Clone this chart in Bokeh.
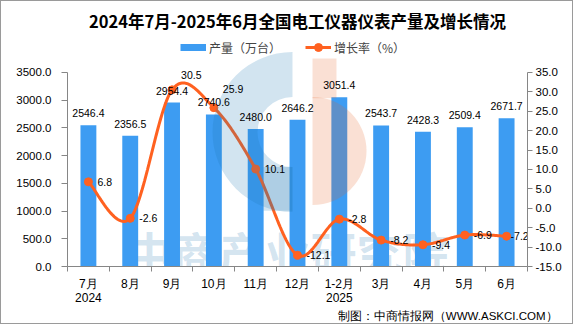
import numpy as np
from bokeh.plotting import figure
from bokeh.models import (Range1d, LinearAxis, FixedTicker, PrintfTickFormatter, Label,
                          Legend, LegendItem, Title, ColumnDataSource)
from bokeh.core.properties import value
from bokeh.embed import file_html
from bokeh.resources import INLINE

# ---------------- data ----------------
categories = ["7月\n2024", "8月", "9月", "10月", "11月", "12月", "1-2月\n2025", "3月", "4月", "5月", "6月"]
production = [2546.4, 2356.5, 2954.4, 2740.6, 2480.0, 2646.2, 3051.4, 2543.7, 2428.3, 2509.4, 2671.7]
growth = [6.8, -2.6, 30.5, 25.9, 10.1, -12.1, -2.8, -8.2, -9.4, -6.9, -7.2]
left_ticks = [0, 500, 1000, 1500, 2000, 2500, 3000, 3500]
right_ticks = [-15, -10, -5, 0, 5, 10, 15, 20, 25, 30, 35]

title_text = "2024年7月-2025年6月全国电工仪器仪表产量及增长情况"
bar_name = "产量（万台）"
line_name = "增长率（%）"
footer_text = "制图：中商情报网（WWW.ASKCI.COM）"
watermark_text = "中商产业研究院"

# ---------------- styles ----------------
BAR_COLOR = "#3d9cf2"
LINE_COLOR = "#ff6120"
AXIS_COLOR = "#868686"
CJK = "Noto Sans CJK SC"
NUM = "Liberation Sans"

W, H = 573, 324          # plus a 1px border on each side -> 575 x 326
BL, BR, BT, BB = 66, 47, 35, 59
FW, FH = W - BL - BR, H - BT - BB
AXIS_H = 195             # pixel height of the value axes (0..3500 / -15..35)
L_MIN, L_MAX = left_ticks[0], left_ticks[-1]
R_MIN, R_MAX = right_ticks[0], right_ticks[-1]
L_TOP = L_MIN + (L_MAX - L_MIN) * FH / AXIS_H
R_TOP = R_MIN + (R_MAX - R_MIN) * FH / AXIS_H

n = len(categories)
xs = [i + 0.5 for i in range(n)]

p = figure(width=W, height=H, x_range=Range1d(0, n), y_range=Range1d(L_MIN, L_TOP),
           output_backend="svg", toolbar_location=None,
           min_border_left=BL, min_border_right=BR, min_border_top=BT, min_border_bottom=BB)
p.styles = {"border": "1px solid #9a9a9a"}
p.extra_y_ranges = {"right": Range1d(R_MIN, R_TOP)}
p.outline_line_color = None
p.xgrid.visible = False
p.ygrid.visible = False
p.background_fill_color = "white"
p.border_fill_color = "white"

# title
p.title.text = title_text
p.title.align = "center"
p.title.text_font = CJK
p.title.text_font_size = "16.5px"
p.title.text_font_style = "bold"
p.title.text_color = "black"

# x axis
xa = p.xaxis[0]
xa.ticker = FixedTicker(ticks=xs, minor_ticks=list(range(n + 1)))
xa.major_label_overrides = {x: c for x, c in zip(xs, categories)}
xa.major_tick_in = 0
xa.major_tick_out = 0
xa.minor_tick_in = 0
xa.minor_tick_out = 5
xa.minor_tick_line_color = AXIS_COLOR
xa.axis_line_color = AXIS_COLOR
xa.major_label_standoff = 5
xa.major_label_text_font = NUM
xa.major_label_text_font_size = "12px"
xa.major_label_text_color = "black"
xa.major_label_text_line_height = 1.0

# left axis
ya = p.yaxis[0]
ya.bounds = (L_MIN, L_MAX)
ya.ticker = FixedTicker(ticks=left_ticks)
ya.formatter = PrintfTickFormatter(format="%.1f")
ya.minor_tick_line_color = None
ya.major_tick_in = 0
ya.major_tick_out = 6
ya.major_tick_line_color = AXIS_COLOR
ya.axis_line_color = AXIS_COLOR
ya.major_label_standoff = 10
ya.major_label_text_font = NUM
ya.major_label_text_font_size = "11.5px"
ya.major_label_text_color = "black"

# right axis
ra = LinearAxis(y_range_name="right", ticker=FixedTicker(ticks=right_ticks),
                formatter=PrintfTickFormatter(format="%.1f"), bounds=(R_MIN, R_MAX))
ra.minor_tick_line_color = None
ra.major_tick_in = 0
ra.major_tick_out = 5
ra.major_tick_line_color = AXIS_COLOR
ra.axis_line_color = AXIS_COLOR
ra.major_label_standoff = 3
ra.major_label_text_font = NUM
ra.major_label_text_font_size = "11.5px"
ra.major_label_text_color = "black"
p.add_layout(ra, "right")

# helpers: window pixel -> frame-relative screen / data coordinates (decoration only)
def fx(px):
    return px - 1 - BL
def fy(py):
    return H + 1 - BB - py
def dx(px):
    return fx(px) / FW * n
def dy(py):
    return L_MIN + fy(py) / FH * (L_TOP - L_MIN)

# watermark text (under bars)
p.add_layout(Label(x=fx(287), y=fy(250), x_units="screen", y_units="screen",
                   text=watermark_text, text_font=CJK, text_font_size="46px",
                   text_font_style="bold", text_color="#1f77b4", text_alpha=0.2,
                   text_align="center", text_baseline="middle", level="underlay"))

# bars
src = ColumnDataSource(dict(x=xs, prod=production, growth=growth,
                            plab=[f"{v:.1f}" for v in production]))
bars = p.vbar(x="x", top="prod", width=0.38, source=src, fill_color=BAR_COLOR, line_color=None)

# smooth growth line (Bezier through the data points, spreadsheet-style smoothing)
pts = np.column_stack([xs, growth]).astype(float)
cx, cy = [], []
for i in range(n - 1):
    p0 = pts[max(i - 1, 0)]; p1 = pts[i]; p2 = pts[i + 1]; p3 = pts[min(i + 2, n - 1)]
    c1 = p1 + (p2 - p0) / 6.0
    c2 = p2 - (p3 - p1) / 6.0
    t = np.linspace(0, 1, 30)[:, None]
    seg = ((1 - t) ** 3) * p1 + 3 * ((1 - t) ** 2) * t * c1 + 3 * (1 - t) * t ** 2 * c2 + t ** 3 * p2
    cx.extend(seg[:, 0]); cy.extend(seg[:, 1])
line_r = p.line(cx, cy, y_range_name="right", line_color=LINE_COLOR, line_width=3)
mark_r = p.scatter(x="x", y="growth", source=src, y_range_name="right", size=8,
                   fill_color=LINE_COLOR, line_color=LINE_COLOR)

# logo watermark (decorative, over bars)
p.annular_wedge(x=[dx(292)], y=[dy(131)], inner_radius=35, outer_radius=80,
                inner_radius_units="screen", outer_radius_units="screen",
                start_angle=np.pi / 2, end_angle=3 * np.pi / 2,
                fill_color="#1f77b4", fill_alpha=0.2, line_color=None)
p.quad(left=[dx(263)], right=[dx(292)], top=[dy(166)], bottom=[dy(210)],
       fill_color="#1f77b4", fill_alpha=0.2, line_color=None)
p.wedge(x=[dx(312)], y=[dy(150)], radius=54, radius_units="screen",
        start_angle=-np.pi / 2, end_angle=np.pi / 2,
        fill_color="#e8632a", fill_alpha=0.2, line_color=None)
p.quad(left=[dx(312)], right=[dx(336)], top=[dy(57)], bottom=[dy(97)],
       fill_color="#e8632a", fill_alpha=0.2, line_color=None)

# labels
p.text(x="x", y="prod", text="plab", source=src, text_align="center", text_baseline="bottom",
       y_offset=-8, text_font=value(NUM), text_font_size="10.5px", text_color="black")
gdx = [9, 9, 9, 9, 9, 9, 9, 9, 9, 9, 4]
gdy = [0, 0, -15, -19, 0, 0, 0, 0, 0, 0, 0]
src2 = ColumnDataSource(dict(x=xs, y=growth, t=[f"{v:.1f}" for v in growth], dx=gdx, dy=gdy))
p.text(x="x", y="y", text="t", source=src2, y_range_name="right", x_offset="dx", y_offset="dy",
       text_align="left", text_baseline="middle", text_font=value(NUM),
       text_font_size="10.5px", text_color="black")

# legend (inside the frame's upper band, under the title)
bar_proxy = p.line(x=[float("nan")], y=[float("nan")], line_color=BAR_COLOR, line_width=7)
legend = Legend(items=[LegendItem(label=bar_name, renderers=[bar_proxy]),
                       LegendItem(label=line_name, renderers=[line_r, mark_r])],
                location=(fx(180), fy(57)), orientation="horizontal", glyph_width=26,
                glyph_height=20, label_height=20, padding=0, margin=0, spacing=24,
                border_line_color=None, background_fill_alpha=0, label_standoff=3,
                label_text_font=CJK, label_text_font_size="12px")
p.add_layout(legend)

# footer
p.add_layout(Title(text=footer_text, align="right", text_font=NUM, text_font_size="11.5px",
                   text_font_style="normal", text_color="black", offset=-30, standoff=1),
             "below")

open("out.html", "w").write(file_html(p, INLINE))
